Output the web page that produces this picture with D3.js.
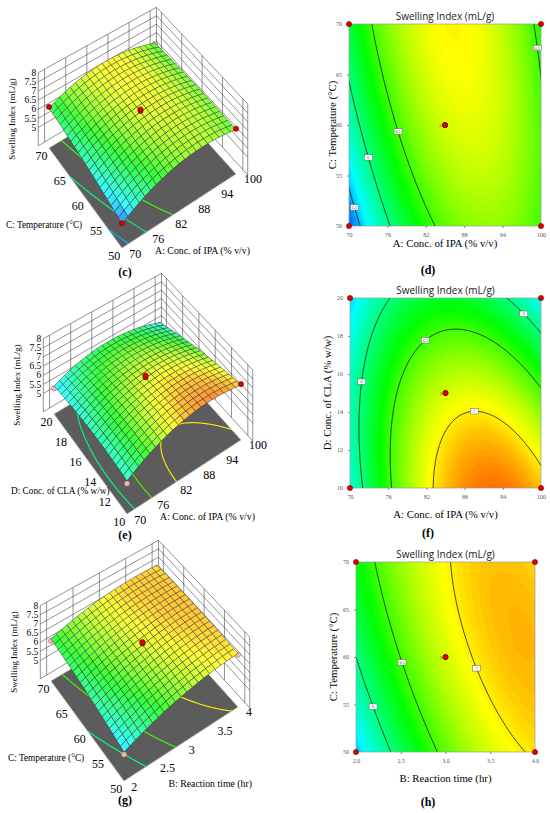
<!DOCTYPE html>
<html>
<head>
<meta charset="utf-8">
<script src="https://cdn.jsdelivr.net/npm/d3@7/dist/d3.min.js"></script>
<style>
  body { margin: 0; background: #fff; }
</style>
</head>
<body>
<div class="content"></div>
<script>
// factors A, B, C, D
const factorNames = ['A: Conc. of IPA (% v/v)', 'B: Reaction time (hr)', 'C: Temperature (°C)', 'D: Conc. of CLA (% w/w)']
const factorLow = [70, 2, 50, 10]
const factorHigh = [100, 4, 70, 20]
const factorTicks = [[70, 76, 82, 88, 94, 100], [2, 2.5, 3, 3.5, 4], [50, 55, 60, 65, 70], [10, 12, 14, 16, 18, 20]]

// quadratic model in coded units
const intercept = 6.86
const linearCoef = [0.36, 0.56, 0.205, -0.423]
const quadCoef = [-0.68, -0.30, -0.085, -0.184]
const interactionPairs = [[0, 1], [0, 2], [0, 3], [1, 2], [1, 3], [2, 3]]
const interactionCoef = [0, -0.25, -0.319, -0.19, 0, 0]

const responseTitle = 'Swelling Index (mL/g)'
const contourLevels = [5.5, 6, 6.5, 7]
const zRange = [4, 8]
const zTicks = [5, 5.5, 6, 6.5, 7, 7.5, 8]
const colorStops = [5.1, 5.65, 6.35, 6.97, 7.5]
const colorNames = ['#0000ff', '#00ffff', '#00ff00', '#ffff00', '#ff0000']

// each row: [x factor, y factor]
const panelFactors = [[0, 2], [0, 3], [1, 2]]
const surfaceLetters = ['(c)', '(e)', '(g)']
const contourLetters = ['(d)', '(f)', '(h)']

// design points (coded) and observed responses
const designX = [-1, -1, 1, 1, 0, 0]
const designY = [-1, 1, -1, 1, 0, 0]
const observed = [
  [5.3, 6.25, 6.55, 6.35, 6.92, 7.0],
  [5.6, 5.4, 7.15, 5.5, 6.9, 7.0],
  [5.4, 6.2, 6.95, 6.9, 6.95, 7.02]
]
const centerRuns = 5

// ---- layout ----
const width = 550, height = 813
const serif = "'Liberation Serif', 'Times New Roman', serif"
const svg = d3.select('div.content').append('svg')
  .attr('width', width).attr('height', height)
  .attr('font-family', serif)
svg.append('rect').attr('width', width).attr('height', height).attr('fill', '#fff')

const color = d3.scaleLinear().domain(colorStops).range(colorNames).clamp(true)
const line = d3.line()

function model(xf, yf, u, v) {
  const x = [0, 0, 0, 0]
  x[xf] = u
  x[yf] = v
  let y = intercept
  for (let i = 0; i < 4; i++) y += linearCoef[i] * x[i] + quadCoef[i] * x[i] * x[i]
  interactionPairs.forEach((p, k) => { y += interactionCoef[k] * x[p[0]] * x[p[1]] })
  return y
}

function gridValues(xf, yf, n, gu, gv) {
  const values = []
  for (let j = 0; j < n; j++)
    for (let i = 0; i < n; i++) values.push(model(xf, yf, gu(i + 0.5), gv(j + 0.5)))
  return values
}

// ---------- 3D surfaces ----------
const surfaceOffsets = [[0, 0], [5, 266], [2, 533]]
const floorF = [122, 248], floorR = [236, 174], floorL = [49, 148], floorB = [155, 84]
const heightF = 76, heightR = 71, heightL = 73, heightB = 68
const letterBase3d = [276, 539, 804]

function surfacePanel(k) {
  const [xf, yf] = panelFactors[k]
  const off = surfaceOffsets[k]
  const g = svg.append('g').attr('transform', `translate(${off[0]},${off[1]})`)
  const zs = d3.scaleLinear().domain(zRange).range([0, 1])
  const pad = 1.12

  function project(u, v, z) {
    const s = (u + 1) / 2, t = (v + 1) / 2, w = zs(z)
    const kF = (1 - s) * (1 - t), kR = s * (1 - t), kL = (1 - s) * t, kB = s * t
    const x = kF * floorF[0] + kR * floorR[0] + kL * floorL[0] + kB * floorB[0]
    const h = kF * heightF + kR * heightR + kL * heightL + kB * heightB
    const y = kF * floorF[1] + kR * floorR[1] + kL * floorL[1] + kB * floorB[1] - w * h
    return [x, y]
  }

  const codeX = d3.scaleLinear().domain([factorLow[xf], factorHigh[xf]]).range([-1, 1])
  const codeY = d3.scaleLinear().domain([factorLow[yf], factorHigh[yf]]).range([-1, 1])

  // back walls
  const wall = g.append('g').attr('stroke', '#4a4a4a').attr('stroke-width', 0.6).attr('fill', 'none')
  ;[zRange[0]].concat(zTicks).forEach(z => {
    wall.append('path').attr('d', line([project(-pad, pad, z), project(pad, pad, z), project(pad, -pad, z)]))
  })
  ;[-pad].concat(factorTicks[xf].map(codeX), [pad]).forEach(u => {
    wall.append('path').attr('d', line([project(u, pad, zRange[0]), project(u, pad, zRange[1])]))
  })
  ;[-pad].concat(factorTicks[yf].map(codeY)).forEach(v => {
    wall.append('path').attr('d', line([project(pad, v, zRange[0]), project(pad, v, zRange[1])]))
  })

  // floor with projected contours
  const floorPts = [[-1, -1], [1, -1], [1, 1], [-1, 1]].map(c => project(c[0], c[1], zRange[0]))
  const clipId = 'floorclip' + k
  g.append('clipPath').attr('id', clipId).append('path').attr('d', line(floorPts) + 'Z')
  g.append('path').attr('d', line(floorPts) + 'Z')
    .attr('fill', '#5c5c5c').attr('stroke', '#b5b5b5').attr('stroke-width', 0.8)
  const n = 80, ext = 1.1
  const gu = d3.scaleLinear().domain([0, n]).range([-ext, ext])
  const gv = d3.scaleLinear().domain([0, n]).range([ext, -ext])
  const values = gridValues(xf, yf, n, gu, gv)
  const floorPath = d3.geoPath(d3.geoTransform({
    point(x, y) { const p = project(gu(x), gv(y), zRange[0]); this.stream.point(p[0], p[1]) }
  }))
  g.append('g').attr('clip-path', `url(#${clipId})`)
    .selectAll('path')
    .data(d3.contours().size([n, n]).thresholds(contourLevels)(values))
    .join('path')
    .attr('d', floorPath)
    .attr('fill', 'none')
    .attr('stroke', d => color(d.value))
    .attr('stroke-width', 1.1)

  // design points
  const dots = designX.map((u, m) => {
    const v = designY[m], z = observed[k][m]
    return { u, v, z, above: z >= model(xf, yf, u, v) }
  })
  const drawDots = list => g.append('g').selectAll('circle').data(list).join('circle')
    .attr('cx', d => project(d.u, d.v, d.z)[0])
    .attr('cy', d => project(d.u, d.v, d.z)[1])
    .attr('r', 2.6)
    .attr('fill', d => d.above ? '#e00000' : '#f3b9b4')
    .attr('stroke', d => d.above ? '#6a0000' : '#b07070')
    .attr('stroke-width', 0.6)
  drawDots(dots.filter(d => !d.above))

  // surface mesh, painted back to front
  const N = 20, step = 2 / N
  const quads = []
  for (let i = 0; i < N; i++) {
    for (let j = 0; j < N; j++) {
      const u0 = -1 + i * step, v0 = -1 + j * step
      const corners = [[u0, v0], [u0 + step, v0], [u0 + step, v0 + step], [u0, v0 + step]]
      const zc = corners.map(c => model(xf, yf, c[0], c[1]))
      quads.push({
        pts: corners.map((c, m) => project(c[0], c[1], zc[m])),
        z: d3.mean(zc),
        depth: u0 + v0
      })
    }
  }
  quads.sort((a, b) => b.depth - a.depth)
  g.append('g').selectAll('path').data(quads).join('path')
    .attr('d', d => line(d.pts) + 'Z')
    .attr('fill', d => d3.interpolateRgb(color(d.z), '#ffffff')(0.22))
    .attr('stroke', '#2b2b2b')
    .attr('stroke-width', 0.45)

  drawDots(dots.filter(d => d.above))

  // z axis
  zTicks.forEach(z => {
    const p = project(-pad, pad, z)
    g.append('text').attr('x', p[0] - 2).attr('y', p[1] + 3.2)
      .attr('text-anchor', 'end').attr('font-size', 9.5).text(z)
  })
  g.append('text')
    .attr('transform', 'translate(12,119) rotate(-90)')
    .attr('text-anchor', 'middle').attr('dominant-baseline', 'central')
    .attr('font-size', 8.9).text(responseTitle)

  // floor axes
  factorTicks[xf].forEach(t => {
    const p = project(codeX(t), -1.2, zRange[0])
    g.append('text').attr('x', p[0]).attr('y', p[1])
      .attr('text-anchor', 'start').attr('font-size', 12).text(t)
  })
  factorTicks[yf].forEach(t => {
    const p = project(-1.03, codeY(t), zRange[0])
    g.append('text').attr('x', p[0]).attr('y', p[1] + 11)
      .attr('text-anchor', 'end').attr('font-size', 12).text(t)
  })
  g.append('text').attr('x', 250).attr('y', 254).attr('text-anchor', 'end')
    .attr('font-size', 9.8).text(factorNames[xf])
  g.append('text').attr('x', 6).attr('y', 228).attr('text-anchor', 'start')
    .attr('font-size', 9.3).text(factorNames[yf])

  svg.append('text').attr('x', 125).attr('y', letterBase3d[k])
    .attr('text-anchor', 'middle').attr('font-size', 12).attr('font-weight', 'bold')
    .text(surfaceLetters[k])
}

// ---------- contour plots ----------
const contourBoxes = [[349, 541, 24, 226], [350, 541, 298, 488], [356, 535, 562, 752]]
const xTitleGap = [21, 30, 30]
const yTitleGap = [17, 23, 23]
const letterBase2d = [274, 537, 806]

function midPoints(geom, gu, gv) {
  const out = []
  geom.coordinates.forEach(poly => poly.forEach(ring => {
    const c = ring.map(p => [gu(p[0]), gv(p[1])])
    const inside = c.map(p => Math.abs(p[0]) < 0.995 && Math.abs(p[1]) < 0.995)
    const start = inside.indexOf(false)
    if (start < 0) { out.push(c[Math.floor(c.length / 2)]); return }
    let run = []
    for (let m = 1; m <= c.length; m++) {
      const idx = (start + m) % c.length
      if (inside[idx]) run.push(c[idx])
      else {
        if (run.length > 4) out.push(run[Math.floor(run.length / 2)])
        run = []
      }
    }
    if (run.length > 4) out.push(run[Math.floor(run.length / 2)])
  }))
  return out
}

function contourPanel(k) {
  const [xf, yf] = panelFactors[k]
  const [x0, x1, y0, y1] = contourBoxes[k]
  const g = svg.append('g')
  const xScale = d3.scaleLinear().domain([factorLow[xf], factorHigh[xf]]).range([x0, x1])
  const yScale = d3.scaleLinear().domain([factorLow[yf], factorHigh[yf]]).range([y1, y0])
  const cu = d3.scaleLinear().domain([-1, 1]).range([x0, x1])
  const cv = d3.scaleLinear().domain([-1, 1]).range([y1, y0])

  const n = 120, ext = 1.1
  const gu = d3.scaleLinear().domain([0, n]).range([-ext, ext])
  const gv = d3.scaleLinear().domain([0, n]).range([ext, -ext])
  const values = gridValues(xf, yf, n, gu, gv)
  const path = d3.geoPath(d3.geoTransform({
    point(x, y) { this.stream.point(cu(gu(x)), cv(gv(y))) }
  }))

  const clipId = 'plotclip' + k
  g.append('clipPath').attr('id', clipId).append('rect')
    .attr('x', x0).attr('y', y0).attr('width', x1 - x0).attr('height', y1 - y0)
  const plot = g.append('g').attr('clip-path', `url(#${clipId})`)
  plot.append('rect').attr('x', x0).attr('y', y0).attr('width', x1 - x0).attr('height', y1 - y0)
    .attr('fill', color(d3.min(values)))
  const bandStep = 0.02
  plot.append('g').selectAll('path')
    .data(d3.contours().size([n, n]).thresholds(d3.range(4.9, 7.6, bandStep))(values))
    .join('path')
    .attr('d', path)
    .attr('fill', d => color(d.value + bandStep / 2))
  const iso = d3.contours().size([n, n]).thresholds(contourLevels)(values)
  plot.append('g').selectAll('path').data(iso).join('path')
    .attr('d', path)
    .attr('fill', 'none')
    .attr('stroke', '#151515')
    .attr('stroke-width', 0.8)

  g.append('rect').attr('x', x0).attr('y', y0).attr('width', x1 - x0).attr('height', y1 - y0)
    .attr('fill', 'none').attr('stroke', '#999').attr('stroke-width', 0.7)

  // contour labels
  iso.forEach(geom => {
    midPoints(geom, gu, gv).forEach(p => {
      const lx = cu(p[0]), ly = cv(p[1])
      g.append('rect').attr('x', lx - 4).attr('y', ly - 2.7).attr('width', 8).attr('height', 5.4)
        .attr('fill', '#fff').attr('stroke', '#666').attr('stroke-width', 0.5)
      g.append('text').attr('x', lx).attr('y', ly + 1.5).attr('text-anchor', 'middle')
        .attr('font-size', 4.2).attr('fill', '#444').text(geom.value)
    })
  })

  // axes
  const styleAxis = sel => {
    sel.select('.domain').remove()
    sel.attr('font-family', serif).attr('font-size', 6)
    sel.selectAll('.tick line').attr('stroke', '#888')
    sel.selectAll('.tick text').attr('fill', '#555')
  }
  g.append('g').attr('transform', `translate(0,${y1})`)
    .call(d3.axisBottom(xScale).tickValues(factorTicks[xf]).tickSize(2).tickPadding(5))
    .call(styleAxis)
  g.append('g').attr('transform', `translate(${x0},0)`)
    .call(d3.axisLeft(yScale).tickValues(factorTicks[yf]).tickSize(2).tickPadding(5))
    .call(styleAxis)

  // design points
  g.append('g').selectAll('circle').data(designX).join('circle')
    .attr('cx', u => cu(u))
    .attr('cy', (u, m) => cv(designY[m]))
    .attr('r', 2.6)
    .attr('fill', '#e00000')
    .attr('stroke', '#6a0000')
    .attr('stroke-width', 0.6)
  g.append('text').attr('x', cu(0) - 3.5).attr('y', cv(0) + 1.6)
    .attr('text-anchor', 'end').attr('font-size', 4.5).attr('fill', '#333').text(centerRuns)

  // titles
  const mid = (x0 + x1) / 2
  g.append('text').attr('x', mid).attr('y', y0 - 4).attr('text-anchor', 'middle')
    .attr('font-family', "'Open Sans', 'DejaVu Sans', sans-serif").attr('font-size', 10)
    .attr('fill', '#222').text(responseTitle)
  g.append('text').attr('x', mid).attr('y', y1 + xTitleGap[k]).attr('text-anchor', 'middle')
    .attr('font-size', 10.8).text(factorNames[xf])
  g.append('text')
    .attr('transform', `translate(${x0 - yTitleGap[k]},${(y0 + y1) / 2}) rotate(-90)`)
    .attr('text-anchor', 'middle').attr('dominant-baseline', 'central')
    .attr('font-size', 10.8).text(factorNames[yf])
  svg.append('text').attr('x', 428).attr('y', letterBase2d[k])
    .attr('text-anchor', 'middle').attr('font-size', 12).attr('font-weight', 'bold')
    .text(contourLetters[k])
}

panelFactors.forEach((p, k) => { surfacePanel(k); contourPanel(k) })
</script>
</body>
</html>
